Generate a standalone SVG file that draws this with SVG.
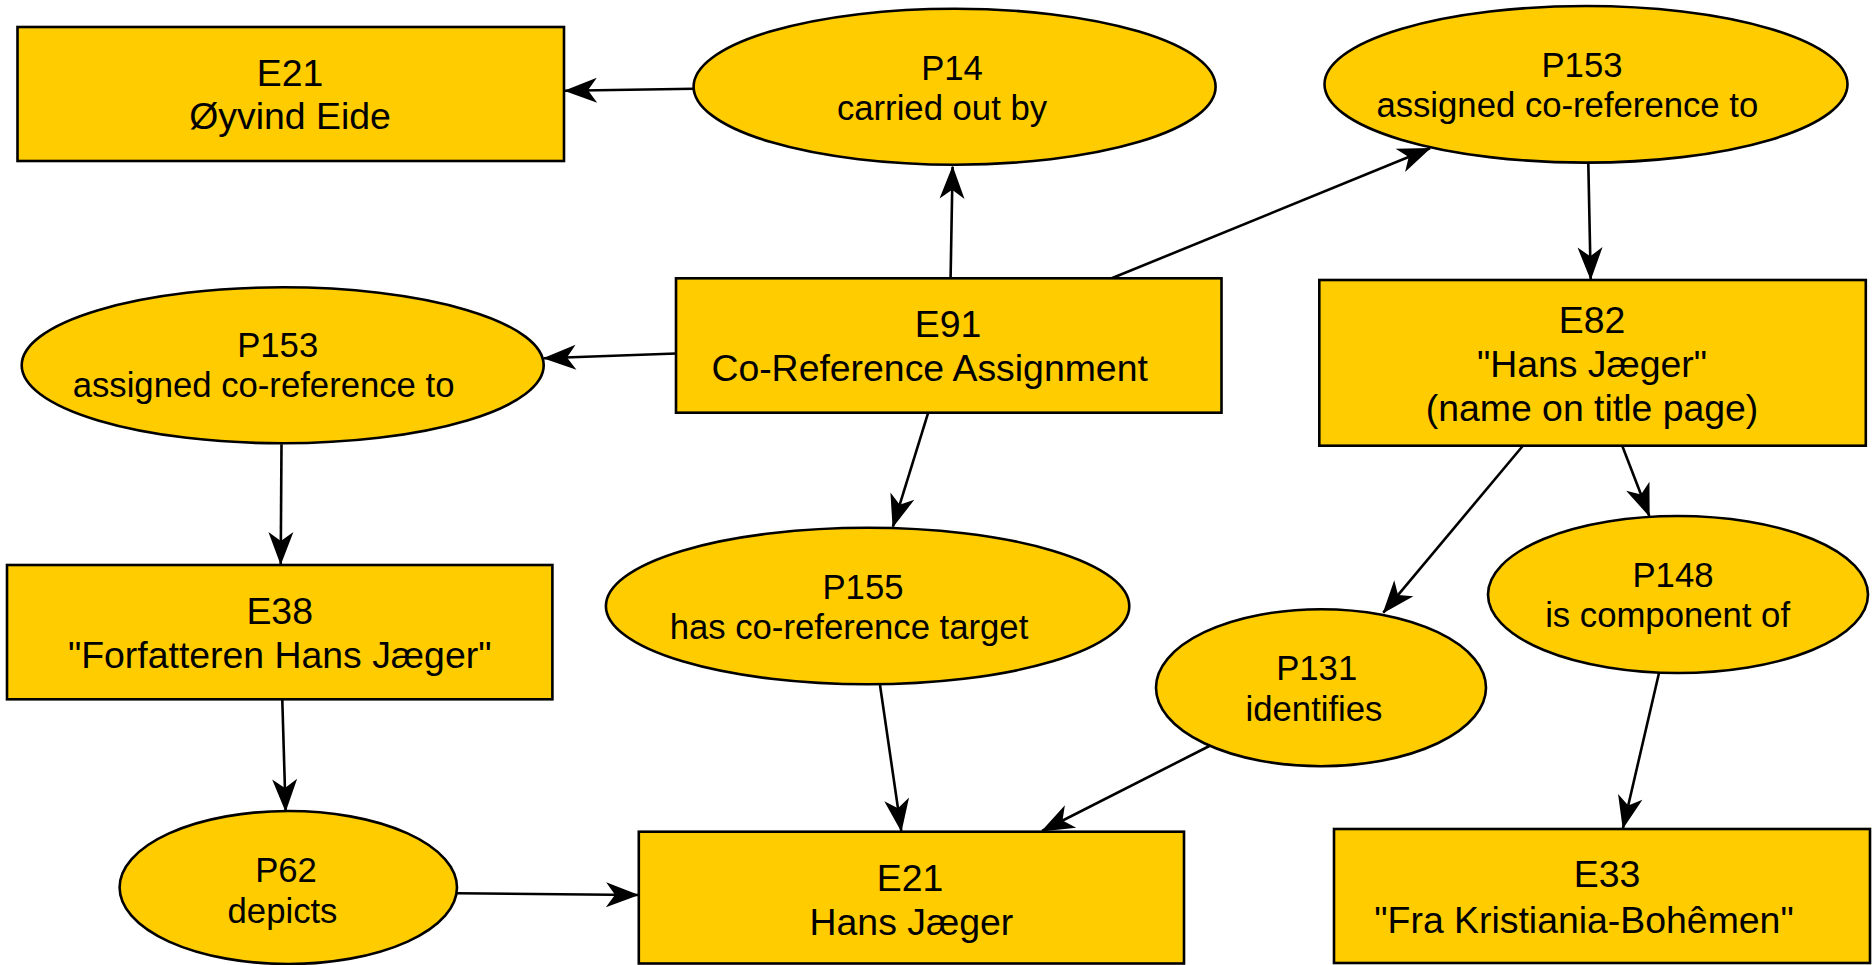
<svg xmlns="http://www.w3.org/2000/svg" width="1872" height="965" viewBox="0 0 1872 965">
<style>
.box{fill:#FFCC00;stroke:#000;stroke-width:2.6}
.el{fill:#FFCC00;stroke:#000;stroke-width:2.6}
.e{font-family:"Liberation Sans",Arial,sans-serif;font-size:37.4px;fill:#000;text-anchor:middle}
.p{font-family:"Liberation Sans",Arial,sans-serif;font-size:34.7px;fill:#000;text-anchor:middle}
.c{fill:none;stroke:#000;stroke-width:2.6}
</style>
<defs>
<marker id="arr" viewBox="-34 -14 36 28" markerWidth="36" markerHeight="28" refX="0" refY="0" orient="auto" markerUnits="userSpaceOnUse">
<path d="M1,0 L-32,-12.5 L-23,0 L-32,12.5 Z" fill="#000"/>
</marker>
</defs>
<rect width="1872" height="965" fill="#fff"/>
<g id="connectors">
<line class="c" x1="694" y1="88.7" x2="565" y2="90.7" marker-end="url(#arr)"/>
<line class="c" x1="950.6" y1="277.3" x2="952.6" y2="166.7" marker-end="url(#arr)"/>
<line class="c" x1="1111.7" y1="278.3" x2="1430" y2="148.3" marker-end="url(#arr)"/>
<line class="c" x1="1588.3" y1="162.7" x2="1590.7" y2="279.3" marker-end="url(#arr)"/>
<line class="c" x1="676" y1="353.5" x2="544" y2="358.3" marker-end="url(#arr)"/>
<line class="c" x1="281.5" y1="444.3" x2="280.7" y2="564" marker-end="url(#arr)"/>
<line class="c" x1="282.3" y1="700" x2="285.6" y2="811" marker-end="url(#arr)"/>
<line class="c" x1="457" y1="893.3" x2="638" y2="895" marker-end="url(#arr)"/>
<line class="c" x1="928.2" y1="412.7" x2="892.9" y2="526.7" marker-end="url(#arr)"/>
<line class="c" x1="880" y1="685" x2="901.3" y2="831" marker-end="url(#arr)"/>
<line class="c" x1="1522.7" y1="446" x2="1383.3" y2="612.7" marker-end="url(#arr)"/>
<line class="c" x1="1622.3" y1="446" x2="1649.3" y2="516" marker-end="url(#arr)"/>
<line class="c" x1="1209.4" y1="746" x2="1042" y2="831" marker-end="url(#arr)"/>
<line class="c" x1="1659" y1="673" x2="1623" y2="828" marker-end="url(#arr)"/>
</g>
<g id="E21_Oyvind">
<rect class="box" x="17.5" y="27" width="546.5" height="134"/>
<text class="e" x="290" y="86">E21</text>
<text class="e" x="290" y="129.3">Øyvind Eide</text>
</g>
<g id="P14">
<ellipse class="el" cx="954.6" cy="86.7" rx="261" ry="78"/>
<text class="p" x="952" y="80">P14</text>
<text class="p" x="942" y="119.5">carried out by</text>
</g>
<g id="P153_right">
<ellipse class="el" cx="1586" cy="84.3" rx="261.5" ry="78.3"/>
<text class="p" x="1582" y="76.7">P153</text>
<text class="p" x="1567.3" y="117.3">assigned co-reference to</text>
</g>
<g id="E91">
<rect class="box" x="676" y="278.3" width="545.5" height="134.4"/>
<text class="e" x="948" y="337.3">E91</text>
<text class="e" x="929.6" y="381">Co-Reference Assignment</text>
</g>
<g id="E82">
<rect class="box" x="1319.3" y="280" width="546.5" height="165.7"/>
<text class="e" x="1592" y="332.7">E82</text>
<text class="e" x="1592" y="376.7">"Hans Jæger"</text>
<text class="e" x="1592" y="420.7">(name on title page)</text>
</g>
<g id="P153_left">
<ellipse class="el" cx="282.7" cy="365.3" rx="261" ry="78"/>
<text class="p" x="277.7" y="357.3">P153</text>
<text class="p" x="263.6" y="397.3">assigned co-reference to</text>
</g>
<g id="E38">
<rect class="box" x="7" y="565" width="545.4" height="134.3"/>
<text class="e" x="279.7" y="624.3">E38</text>
<text class="e" x="279.7" y="668.3">"Forfatteren Hans Jæger"</text>
</g>
<g id="P155">
<ellipse class="el" cx="867.6" cy="606" rx="261.7" ry="78.3"/>
<text class="p" x="863" y="599">P155</text>
<text class="p" x="849" y="639.3">has co-reference target</text>
</g>
<g id="P148">
<ellipse class="el" cx="1678" cy="594.5" rx="190" ry="78.5"/>
<text class="p" x="1673" y="587">P148</text>
<text class="p" x="1667.6" y="627.3">is component of</text>
</g>
<g id="P131">
<ellipse class="el" cx="1321" cy="687.7" rx="165" ry="78.5"/>
<text class="p" x="1316.7" y="680.2">P131</text>
<text class="p" x="1314" y="720.8">identifies</text>
</g>
<g id="P62">
<ellipse class="el" cx="288.3" cy="887.5" rx="168.7" ry="76.5"/>
<text class="p" x="286" y="882.3">P62</text>
<text class="p" x="282.5" y="922.7">depicts</text>
</g>
<g id="E21_Hans">
<rect class="box" x="638.8" y="831.7" width="545.2" height="131.8"/>
<text class="e" x="910" y="890.7">E21</text>
<text class="e" x="911.4" y="935">Hans Jæger</text>
</g>
<g id="E33">
<rect class="box" x="1334" y="829" width="536" height="134"/>
<text class="e" x="1607" y="887.3">E33</text>
<text class="e" x="1584" y="933.3">"Fra Kristiania-Bohêmen"</text>
</g>
</svg>
